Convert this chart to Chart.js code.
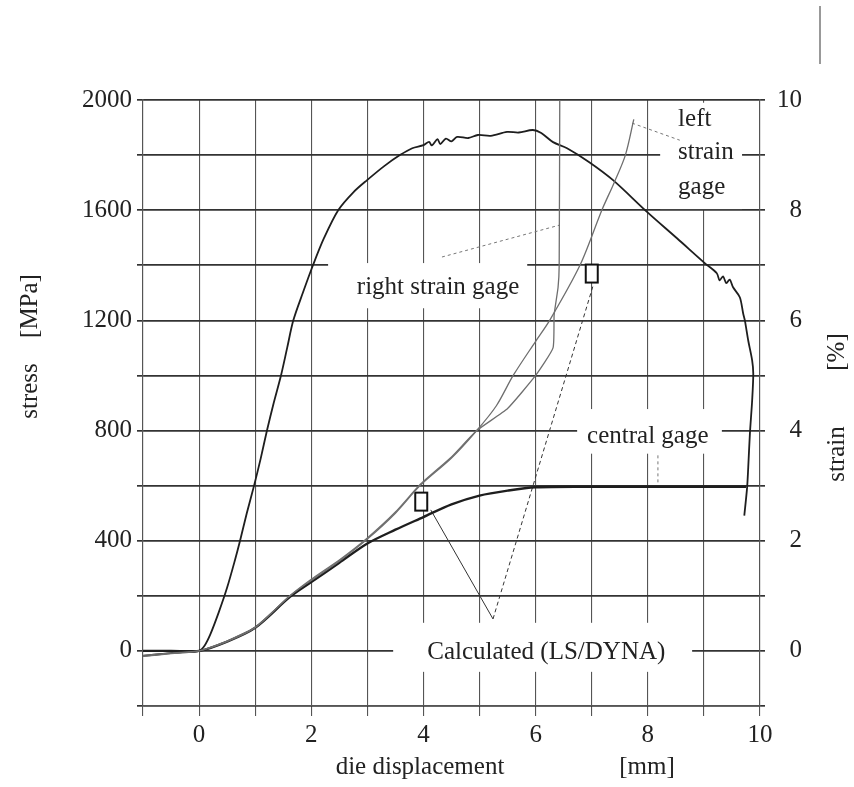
<!DOCTYPE html>
<html>
<head>
<meta charset="utf-8">
<script src="https://cdn.jsdelivr.net/npm/chart.js@4.4.0/dist/chart.umd.min.js"></script>
<style>
  html, body { margin: 0; padding: 0; background: #fff; }
  #wrap { width: 854px; height: 787px; position: relative; }
</style>
</head>
<body>
<div id="wrap"><canvas id="myChart"></canvas></div>
<script>
// stress curve, left axis [MPa]
const stressX = [-1, -0.6, -0.3, 0, 0.1, 0.2, 0.35, 0.5, 0.64, 0.73, 0.85, 0.98, 1.1, 1.21, 1.33, 1.46, 1.57, 1.68, 1.85, 2.03, 2.23, 2.48, 2.75, 3.0, 3.3, 3.58, 3.8, 4.0, 4.1, 4.15, 4.25, 4.3, 4.4, 4.5, 4.6, 4.8, 4.97, 5.2, 5.49, 5.7, 5.95, 6.1, 6.31, 6.56, 6.95, 7.38, 7.99, 8.52, 9.02, 9.23, 9.28, 9.34, 9.4, 9.46, 9.52, 9.64, 9.7, 9.73, 9.79, 9.86, 9.88, 9.86, 9.82, 9.79, 9.77, 9.72];
const stressY = [-18, -10, -4, 0, 20, 60, 140, 230, 330, 400, 500, 600, 700, 800, 900, 1000, 1100, 1200, 1300, 1400, 1500, 1600, 1665, 1710, 1760, 1800, 1825, 1836, 1848, 1835, 1858, 1840, 1860, 1850, 1866, 1862, 1873, 1870, 1884, 1882, 1891, 1880, 1847, 1825, 1775, 1709, 1593, 1498, 1407, 1371, 1345, 1360, 1335, 1348, 1320, 1284, 1225, 1200, 1127, 1055, 1007, 909, 789, 665, 593, 491];

// strain gages, right axis [%]
const centralX = [-1, -0.5, 0, 0.5, 1, 1.62, 2, 2.5, 3, 3.5, 4, 4.5, 5, 5.5, 6, 7, 8, 9, 9.75];
const centralY = [0, 0, 0, 0.17, 0.42, 0.98, 1.25, 1.6, 1.95, 2.2, 2.43, 2.66, 2.82, 2.91, 2.97, 2.98, 2.98, 2.98, 2.98];

const leftGageX = [-1, -0.5, 0, 0.5, 1, 1.62, 2, 2.5, 3, 3.5, 3.94, 4.5, 4.95, 5.3, 5.6, 6.0, 6.25, 6.79, 7.18, 7.4, 7.6, 7.75];
const leftGageY = [-0.1, -0.05, 0, 0.17, 0.42, 1.0, 1.28, 1.63, 2.03, 2.5, 3.0, 3.5, 4.0, 4.45, 5.0, 5.62, 6.0, 7.0, 8.0, 8.5, 9.0, 9.65];

const rightGageX = [-1, -0.5, 0, 0.5, 1, 1.62, 2, 2.5, 3, 3.5, 3.94, 4.5, 4.95, 5.5, 6.0, 6.31, 6.33, 6.4, 6.42, 6.43];
const rightGageY = [-0.08, -0.04, 0, 0.18, 0.43, 1.0, 1.3, 1.65, 2.05, 2.52, 3.02, 3.52, 4.0, 4.4, 5.0, 5.5, 6.1, 6.6, 7.0, 10];

// calculated (LS/DYNA) points, right axis [%]
const calcX = [3.96, 7.0];
const calcY = [2.71, 6.85];

// lines from the "Calculated" label to the points
const calcLineX = [4.13, 5.24];
const calcLineY = [2.56, 0.58];
const calcDashX = [5.24, 7.03];
const calcDashY = [0.58, 6.65];

// label pointer lines
const rightPtrX = [4.33, 6.43];
const rightPtrY = [7.15, 7.73];
const leftPtrX = [7.72, 8.57];
const leftPtrY = [9.58, 9.27];
const centralPtrX = [8.18, 8.18];
const centralPtrY = [3.55, 3.05];

// tick labels
const xTicks = [0, 2, 4, 6, 8, 10];
const stressTicks = [0, 400, 800, 1200, 1600, 2000];
const strainTicks = [0, 2, 4, 6, 8, 10];

const FONT = '"Liberation Serif", "DejaVu Serif", serif';
const INK = "#222";

function pts(xs, ys) {
  return xs.map((x, i) => ({ x: x, y: ys[i] }));
}

// open rectangle marker for the calculated points
const box = document.createElement("canvas");
box.width = 16;
box.height = 22;
const bc = box.getContext("2d");
bc.fillStyle = "#fff";
bc.fillRect(1, 1, 14, 20);
bc.strokeStyle = "#111";
bc.lineWidth = 2;
bc.strokeRect(2, 2, 12, 18);

// labels on white boxes (x in mm, y in % strain)
const labels = [
  { box: [2.3, 5.85, 7.04, 6.22], lines: ["right strain gage"], x: 4.26, y: [6.59], align: "center" },
  { box: [6.74, 9.32, 4.39, 3.58], lines: ["central gage"], x: 8.0, y: [3.9], align: "center" },
  { box: [3.46, 8.79, 0.51, -0.38], lines: ["Calculated (LS/DYNA)"], x: 6.19, y: [-0.02], align: "center" },
  { box: [8.22, 9.68, 9.95, 8.02], lines: ["left", "strain", "gage"], x: 8.54, y: [9.64, 9.04, 8.42], align: "left" },
];

const labelPlugin = {
  id: "labelBoxes",
  beforeDatasetsDraw(chart) {
    const ctx = chart.ctx;
    const sx = chart.scales.x;
    const sy = chart.scales.y1;
    ctx.save();
    labels.forEach((l) => {
      const x0 = sx.getPixelForValue(l.box[0]);
      const x1 = sx.getPixelForValue(l.box[1]);
      const y0 = sy.getPixelForValue(l.box[2]);
      const y1 = sy.getPixelForValue(l.box[3]);
      ctx.fillStyle = "#fff";
      ctx.fillRect(x0, y0, x1 - x0, y1 - y0);
      ctx.fillStyle = INK;
      ctx.font = "25px " + FONT;
      ctx.textAlign = l.align;
      ctx.textBaseline = "middle";
      l.lines.forEach((t, i) => {
        ctx.fillText(t, sx.getPixelForValue(l.x), sy.getPixelForValue(l.y[i]));
      });
    });
    ctx.restore();
  },
  afterDraw(chart) {
    const ctx = chart.ctx;
    ctx.save();
    ctx.fillStyle = INK;
    ctx.font = "25px " + FONT;
    ctx.textAlign = "center";
    ctx.textBaseline = "middle";
    ctx.fillText("die displacement", 420, 767);
    ctx.fillText("[mm]", 647, 767);
    // left title
    ctx.save();
    ctx.translate(30, 0);
    ctx.rotate(-Math.PI / 2);
    ctx.fillText("stress", -391, 0);
    ctx.fillText("[MPa]", -306, 0);
    ctx.restore();
    // right title
    ctx.save();
    ctx.translate(837, 0);
    ctx.rotate(-Math.PI / 2);
    ctx.fillText("strain", -454, 0);
    ctx.fillText("[%]", -352, 0);
    ctx.restore();
    // scan mark top right
    ctx.strokeStyle = "#777";
    ctx.lineWidth = 1.5;
    ctx.beginPath();
    ctx.moveTo(820, 6);
    ctx.lineTo(820, 64);
    ctx.stroke();
    ctx.restore();
  },
};

function thin(data, color, width, dash, tension) {
  return {
    data: data,
    yAxisID: "y1",
    borderColor: color,
    borderWidth: width,
    borderDash: dash || [],
    tension: tension || 0,
    pointRadius: 0,
    fill: false,
  };
}

const config = {
  type: "line",
  data: {
    datasets: [
      thin(pts(rightGageX, rightGageY), "#6e6e6e", 1.3, null, 0.15),
      thin(pts(leftGageX, leftGageY), "#6e6e6e", 1.3, null, 0.3),
      thin(pts(centralX, centralY), "#1e1e1e", 2.4, null, 0.3),
      {
        data: pts(stressX, stressY),
        yAxisID: "y",
        borderColor: "#1e1e1e",
        borderWidth: 1.8,
        tension: 0.3,
        pointRadius: 0,
        fill: false,
      },
      thin(pts(calcLineX, calcLineY), "#333", 1),
      thin(pts(calcDashX, calcDashY), "#333", 1, [4, 3]),
      thin(pts(rightPtrX, rightPtrY), "#777", 1, [3, 3]),
      thin(pts(leftPtrX, leftPtrY), "#777", 1, [3, 3]),
      thin(pts(centralPtrX, centralPtrY), "#777", 1, [3, 3]),
      {
        data: pts(calcX, calcY),
        yAxisID: "y1",
        showLine: false,
        pointStyle: box,
        pointRadius: 8,
      },
    ],
  },
  options: {
    responsive: true,
    maintainAspectRatio: false,
    animation: false,
    layout: { padding: { top: 100, right: 52, bottom: 0, left: 0 } },
    plugins: {
      legend: { display: false },
      tooltip: { enabled: false },
    },
    scales: {
      x: {
        type: "linear",
        min: -1,
        max: 10,
        ticks: {
          stepSize: 1,
          autoSkip: false,
          maxRotation: 0,
          padding: 4,
          color: INK,
          font: { family: FONT, size: 25 },
          callback: (v) => (xTicks.includes(v) ? String(v) : ""),
        },
        grid: { color: "#555", lineWidth: 1.1, tickLength: 10 },
        border: { color: "#555", width: 1.1 },
        afterFit: (s) => {
          s.height = 81;
        },
      },
      y: {
        position: "left",
        min: -200,
        max: 2000,
        ticks: {
          stepSize: 200,
          autoSkip: false,
          padding: 5,
          color: INK,
          font: { family: FONT, size: 25 },
          callback: (v) => (stressTicks.includes(v) ? String(v) : ""),
        },
        grid: { color: "#333", lineWidth: 1.7, tickLength: 6 },
        border: { color: "#555", width: 1.1 },
        afterFit: (s) => {
          s.width = 143;
        },
      },
      y1: {
        position: "right",
        min: -1,
        max: 10,
        ticks: {
          stepSize: 1,
          autoSkip: false,
          crossAlign: "far",
          color: INK,
          font: { family: FONT, size: 25 },
          callback: (v) => (strainTicks.includes(v) ? String(v) : ""),
        },
        grid: { drawOnChartArea: false, color: "#333", lineWidth: 1.7, tickLength: 5 },
        border: { color: "#555", width: 1.1 },
        afterFit: (s) => {
          s.width = 42;
        },
      },
    },
  },
  plugins: [labelPlugin],
};

const myChart = new Chart(document.getElementById("myChart"), config);
</script>
</body>
</html>
